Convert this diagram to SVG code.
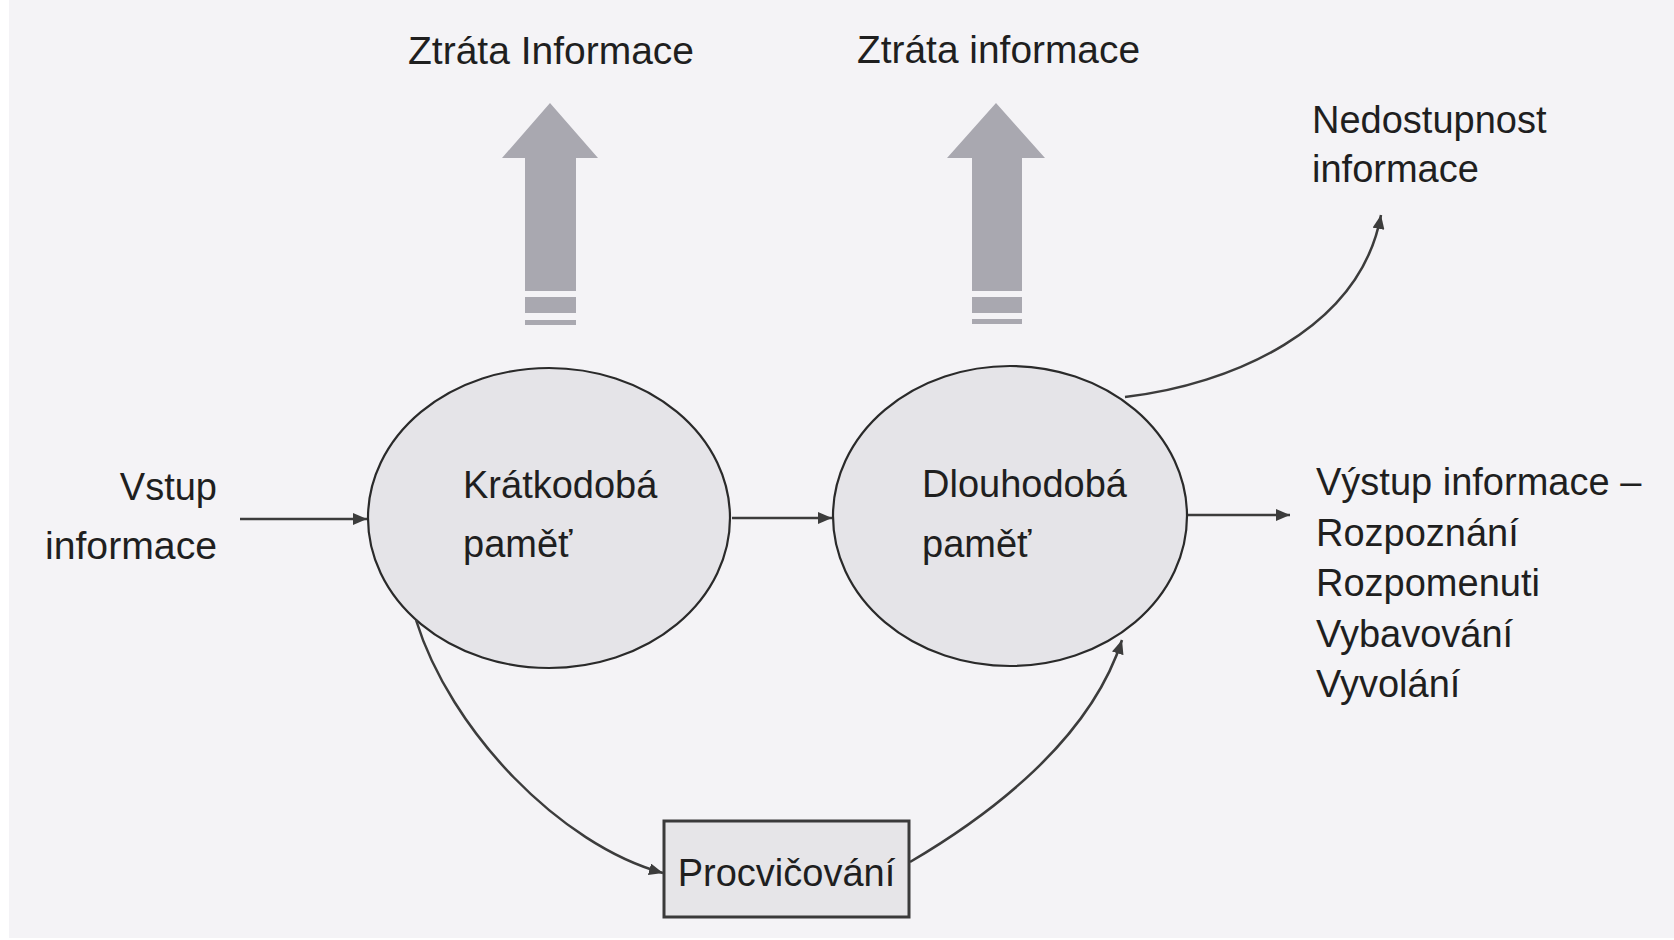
<svg xmlns="http://www.w3.org/2000/svg" width="1674" height="940" viewBox="0 0 1674 940">
<defs>
<style>
.t{font-family:"Liberation Sans",Arial,sans-serif;font-size:38px;fill:#1f1f1f}
.c{fill:none;stroke:#3c3c3c;stroke-width:2.5}
.node{fill:#e5e4e8;stroke:#2a2a2a;stroke-width:2.2}
.big{fill:#a9a8b0}
</style>
<marker id="ah" markerUnits="userSpaceOnUse" markerWidth="16" markerHeight="12" refX="14" refY="6" orient="auto">
<path d="M0,0 L14,6 L0,12 z" fill="#3c3c3c"/>
</marker>
</defs>
<rect width="1674" height="940" fill="#ffffff"/>
<rect x="9" y="0" width="1665" height="938" fill="#f4f3f6"/>

<g id="loss1">
<polygon class="big" points="550,103 598,158 576,158 576,291 525,291 525,158 502,158"/>
<rect class="big" x="525" y="297" width="51" height="16"/>
<rect class="big" x="525" y="320" width="51" height="5"/>
<text class="t" x="408" y="64" textLength="286" lengthAdjust="spacingAndGlyphs">Ztráta Informace</text>
</g>

<g id="loss2">
<polygon class="big" points="996,103 1045,158 1022,158 1022,291 972,291 972,158 947,158"/>
<rect class="big" x="972" y="297" width="50" height="16"/>
<rect class="big" x="972" y="319" width="50" height="5"/>
<text class="t" x="857" y="63" textLength="283" lengthAdjust="spacingAndGlyphs">Ztráta informace</text>
</g>

<g id="input">
<text class="t" x="217" y="500" text-anchor="end">Vstup</text>
<text class="t" x="45" y="559" textLength="172" lengthAdjust="spacingAndGlyphs">informace</text>
</g>

<g id="stm">
<ellipse class="node" cx="549" cy="518" rx="181" ry="150"/>
<text class="t" x="463" y="498">Krátkodobá</text>
<text class="t" x="463" y="557">paměť</text>
</g>

<g id="ltm">
<ellipse class="node" cx="1010" cy="516" rx="177" ry="150"/>
<text class="t" x="922" y="497">Dlouhodobá</text>
<text class="t" x="922" y="557">paměť</text>
</g>

<g id="unavail">
<text class="t" x="1312" y="133">Nedostupnost</text>
<text class="t" x="1312" y="182">informace</text>
</g>

<g id="output">
<text class="t" x="1316" y="495">Výstup informace –</text>
<text class="t" x="1316" y="546">Rozpoznání</text>
<text class="t" x="1316" y="596">Rozpomenuti</text>
<text class="t" x="1316" y="647">Vybavování</text>
<text class="t" x="1316" y="697">Vyvolání</text>
</g>

<g id="practice">
<rect x="664" y="821" width="245" height="96" fill="#e6e5e8" stroke="#3a3a3a" stroke-width="3"/>
<text class="t" x="786.5" y="886" text-anchor="middle">Procvičování</text>
</g>

<g id="connectors">
<path class="c" d="M240,519 L367,519" marker-end="url(#ah)"/>
<path class="c" d="M732,518 L832,518" marker-end="url(#ah)"/>
<path class="c" d="M1188,515 L1290,515" marker-end="url(#ah)"/>
<path class="c" d="M1125,397 C1230,385 1360,330 1381,215" marker-end="url(#ah)"/>
<path class="c" d="M416,620 C450,730 560,845 663,873" marker-end="url(#ah)"/>
<path class="c" d="M910,862 C990,815 1090,740 1122,640" marker-end="url(#ah)"/>
</g>
</svg>
